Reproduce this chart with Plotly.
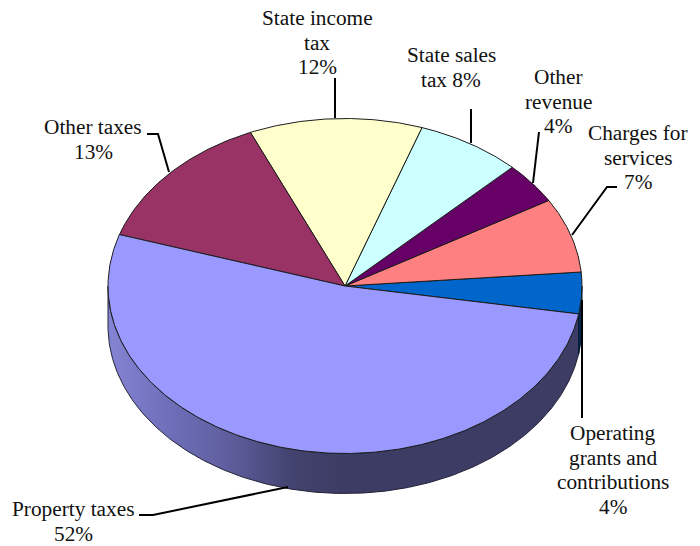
import numpy as np
import plotly.graph_objects as go

# shares, counter-clockwise from the lower right edge
categories = ['Operating grants and contributions', 'Charges for services', 'Other revenue',
              'State sales tax', 'State income tax', 'Other taxes', 'Property taxes']
shares = [4.0, 7.2, 4.0, 7.2, 11.8, 13.5, 52.3]
colors = ['#0066CC', '#FF8080', '#660066', '#CCFFFF', '#FFFFCC', '#993366', '#9999FF']
label_lines = [['Operating', 'grants and', 'contributions', '4%'], ['Charges for', 'services', '7%'],
               ['Other', 'revenue', '4%'], ['State sales', 'tax 8%'], ['State income', 'tax', '12%'],
               ['Other taxes', '13%'], ['Property taxes', '52%']]
label_x = [613, 638, 558, 451, 317, 93, 73]
label_y = [433, 133, 77, 55, 18, 127, 509]

# leader lines, one per label
leaders = [
    ([582, 582], [300, 418]),
    ([617, 607, 572], [187, 187, 235]),
    ([539, 533], [132, 183]),
    ([471, 471], [109, 143]),
    ([335, 335], [78, 118]),
    ([147, 158, 169], [134, 134, 172]),
    ([139, 153, 288], [515, 515, 487]),
]

cx, cy = 345, 286
rx, ry = 237, 167.5
depth = 40
start_angle = -9.6
line_step = 24.7


def arc(a0, a1, dy=0):
    t = np.radians(np.linspace(a0, a1, max(int(abs(a1 - a0) * 2), 2)))
    return cx + rx * np.cos(t), cy + dy - ry * np.sin(t)


fig = go.Figure()

# side wall under the big slice, shaded left to right
x1, y1 = arc(180, 350.4)
x2, y2 = arc(350.4, 180, depth)
fig.add_trace(go.Scatter(x=np.r_[x1, x2, x1[0]], y=np.r_[y1, y2, y1[0]], mode='lines', fill='toself',
                         line=dict(color='#222238', width=1),
                         fillgradient=dict(type='horizontal',
                                           colorscale=[[0, '#8484D4'], [0.12, '#7070BC'], [0.25, '#5F5FA0'],
                                                       [0.39, '#43436F'], [0.5, '#3C3C64'], [1, '#3C3C64']]),
                         hoverinfo='skip', showlegend=False))
# side wall under the blue slice
x1, y1 = arc(350.4, 360)
x2, y2 = arc(360, 350.4, depth)
fig.add_trace(go.Scatter(x=np.r_[x1, x2, x1[0]], y=np.r_[y1, y2, y1[0]], mode='lines', fill='toself',
                         line=dict(color='#001830', width=1), fillcolor='#002850',
                         hoverinfo='skip', showlegend=False))

# top of the pie
edges = start_angle + np.r_[0, np.cumsum(shares)] * 3.6
for i, name in enumerate(categories):
    x, y = arc(edges[i], edges[i + 1])
    fig.add_trace(go.Scatter(x=np.r_[cx, x, cx], y=np.r_[cy, y, cy], mode='lines', fill='toself',
                             line=dict(color='#1c1c1c', width=1), fillcolor=colors[i],
                             name=name, hoverinfo='name', showlegend=False))

for lx, ly in leaders:
    fig.add_trace(go.Scatter(x=lx, y=ly, mode='lines', line=dict(color='black', width=2),
                             hoverinfo='skip', showlegend=False))

# one annotation per text line, the stock <br> spacing is too wide here
for lines, x, y in zip(label_lines, label_x, label_y):
    for k, text in enumerate(lines):
        fig.add_annotation(x=x, y=y + k * line_step, text=text, showarrow=False,
                           font=dict(family='Liberation Serif', size=21.3, color='#111111'))

fig.update_layout(width=700, height=546, margin=dict(l=0, r=0, t=0, b=0),
                  paper_bgcolor='white', plot_bgcolor='white',
                  xaxis=dict(range=[0, 700], visible=False),
                  yaxis=dict(range=[546, 0], visible=False))
# page margin would push the 700 wide figure out of the window
fig.write_html("out.html", config={'displayModeBar': False},
               post_script="document.body.style.margin='0';")
